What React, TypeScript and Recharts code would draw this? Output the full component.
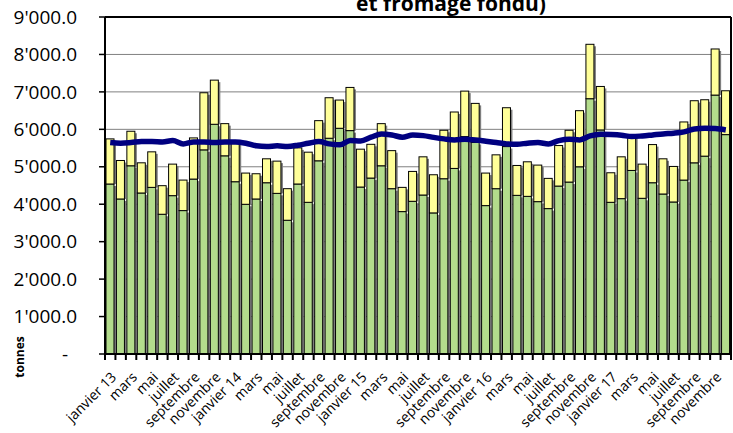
import React from "react";
import {
  ComposedChart,
  Bar,
  Line,
  XAxis,
  YAxis,
  CartesianGrid,
  ReferenceLine,
} from "recharts";

const W = 733;
const H = 433;

const monthNames = [
  "janvier",
  "février",
  "mars",
  "avril",
  "mai",
  "juin",
  "juillet",
  "août",
  "septembre",
  "octobre",
  "novembre",
  "décembre",
];
const years = ["13", "14", "15", "16", "17"];

// green part of each bar (lower segment)
const greenValues = [
  4540, 4140, 5027, 4300, 4450, 3732, 4229, 3830, 4672, 5452, 6135, 5293,
  4601, 3998, 4140, 4574, 4290, 3572, 4540, 4051, 5160, 5762, 6028, 5966,
  4459, 4699, 5027, 4415, 3803, 4078, 4246, 3768, 4681, 4956, 5806, 5650,
  3963, 4415, 5540, 4237, 4210, 4069, 3883, 4485, 4592, 5000, 6818, 5984,
  4051, 4149, 4902, 4158, 4574, 4273, 4060, 4645, 5106, 5284, 6915, 5859,
];

// yellow part stacked on top
const yellowValues = [
  1205, 1028, 922, 806, 949, 763, 842, 815, 1099, 1525, 1179, 859,
  1049, 834, 674, 639, 861, 843, 965, 1339, 1072, 1082, 754, 1153,
  1011, 901, 1125, 1016, 647, 798, 1020, 1019, 1294, 1507, 1215, 1043,
  869, 904, 1037, 798, 923, 976, 807, 1082, 1383, 1498, 1453, 1161,
  789, 1117, 949, 913, 1019, 940, 949, 1552, 1658, 1506, 1231, 1171,
];

// moving average (blue line)
const avgValues = [
  5647, 5630, 5647, 5674, 5674, 5665, 5700, 5611, 5665, 5665, 5647, 5665,
  5665, 5630, 5559, 5541, 5559, 5541, 5577, 5630, 5674, 5611, 5585, 5700,
  5690, 5790, 5878, 5850, 5790, 5850, 5832, 5785, 5745, 5718, 5735, 5718,
  5683, 5647, 5611, 5603, 5630, 5647, 5611, 5700, 5736, 5718, 5824, 5869,
  5860, 5842, 5806, 5824, 5851, 5878, 5896, 5931, 6011, 6029, 6020, 5984,
];

const yTicks = [0, 1000, 2000, 3000, 4000, 5000, 6000, 7000, 8000, 9000];

const months: string[] = [];
years.forEach((yr) =>
  monthNames.forEach((m, i) => months.push(i === 0 ? `${m} ${yr}` : m))
);

const data = months.map((month, i) => ({
  month,
  green: greenValues[i],
  yellow: yellowValues[i],
  avg: avgValues[i],
}));

const FONT = "'Open Sans', sans-serif";

const fmt = (v: number) =>
  v === 0 ? "-" : `${Math.floor(v / 1000)}'${String(v % 1000).padStart(3, "0")}.0`;

const YTick = (props: any) => {
  const { x, y, payload } = props;
  const v = payload.value;
  return (
    <text
      x={v === 0 ? x - 34 : x - 22}
      y={y}
      dy="0.35em"
      textAnchor={v === 0 ? "middle" : "end"}
      fontSize={19}
      fontFamily={FONT}
      fill="#000"
    >
      {fmt(v)}
    </text>
  );
};

const XTick = (props: any) => {
  const { x, y, payload, index } = props;
  const half = payload && payload.offset ? payload.offset : 5.2;
  const idx = index ?? payload?.index ?? 0;
  return (
    <g>
      <line x1={x - half} x2={x - half} y1={y - 6} y2={y} stroke="#000" strokeWidth={2} />
      {idx === months.length - 1 && (
        <line x1={x + half} x2={x + half} y1={y - 6} y2={y} stroke="#000" strokeWidth={2} />
      )}
      {idx % 2 === 0 && (
        <text
          transform={`translate(${x + 7},${y + 18}) rotate(-45)`}
          textAnchor="end"
          fontSize={14}
          fontFamily={FONT}
          fill="#000"
        >
          {payload.value}
        </text>
      )}
    </g>
  );
};

const ShadowBar = (props: any) => {
  const { x, y, width, height, fill } = props;
  if (!height || height <= 0) return null;
  return (
    <g>
      <rect x={x + 2} y={y + 2} width={width} height={Math.max(0, height - 2)} fill="#7f7f7f" />
      <rect x={x} y={y} width={width} height={height} fill={fill} stroke="#000" strokeWidth={1} />
    </g>
  );
};

export default function App() {
  return (
    <div style={{ position: "absolute", left: 0, top: 0, width: W, height: H, background: "#fff" }}>
      <ComposedChart
        width={W}
        height={H}
        data={data}
        margin={{ top: 17, right: 0, left: 0, bottom: 0 }}
        barGap={0}
      >
        <CartesianGrid vertical={false} stroke="#808080" />
        <XAxis
          dataKey="month"
          interval={0}
          height={79}
          tickLine={false}
          tickSize={6}
          tickMargin={0}
          axisLine={{ stroke: "#000", strokeWidth: 2 }}
          tick={<XTick />}
        />
        <YAxis
          width={105}
          domain={[0, 9000]}
          ticks={yTicks}
          interval={0}
          tickSize={6}
          tickMargin={0}
          axisLine={{ stroke: "#000", strokeWidth: 2 }}
          tickLine={{ stroke: "#000", strokeWidth: 1.5 }}
          tick={<YTick />}
        />
        <YAxis
          yAxisId="r"
          orientation="right"
          width={2}
          domain={[0, 9000]}
          tick={false}
          tickLine={false}
          axisLine={{ stroke: "#000", strokeWidth: 2 }}
        />
        <ReferenceLine y={9000} stroke="#000" strokeWidth={2} />
        <Bar
          dataKey="green"
          stackId="a"
          fill="#b3dc8c"
          barSize={8}
          shape={<ShadowBar />}
          isAnimationActive={false}
        />
        <Bar
          dataKey="yellow"
          stackId="a"
          fill="#ffff99"
          barSize={8}
          shape={<ShadowBar />}
          isAnimationActive={false}
        />
        <Line
          dataKey="avg"
          type="monotone"
          stroke="#000080"
          strokeWidth={5.5}
          dot={false}
          isAnimationActive={false}
        />
      </ComposedChart>
      <svg
        width={W}
        height={H}
        style={{ position: "absolute", left: 0, top: 0, pointerEvents: "none" }}
      >
        <text
          x={451}
          y={11}
          textAnchor="middle"
          fontSize={21}
          fontWeight="bold"
          fontFamily={FONT}
          fill="#000"
        >
          et fromage fondu)
        </text>
        <text
          transform="translate(24,357) rotate(-90)"
          textAnchor="middle"
          fontSize={12}
          fontWeight="bold"
          fontFamily={FONT}
          fill="#000"
        >
          tonnes
        </text>
      </svg>
    </div>
  );
}
